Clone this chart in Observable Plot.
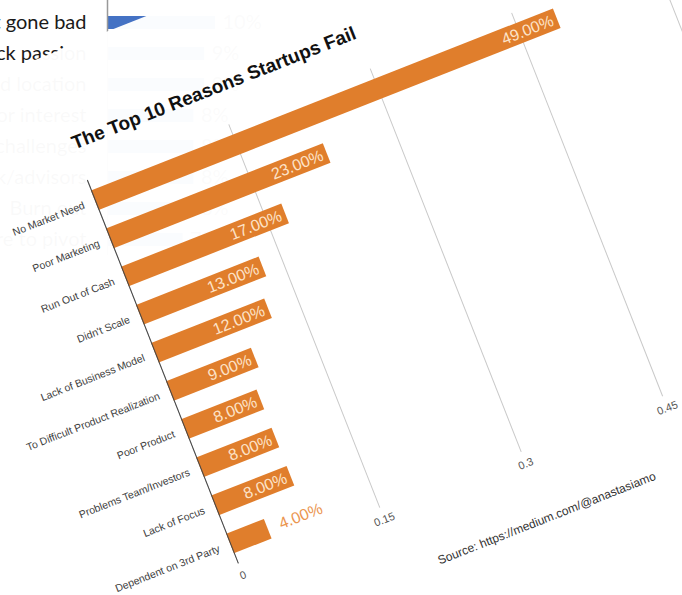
<!DOCTYPE html>
<html>
<head>
<meta charset="utf-8">
<script src="https://cdn.jsdelivr.net/npm/d3@7"></script>
<script src="https://cdn.jsdelivr.net/npm/@observablehq/plot@0.6"></script>
<style>
  html, body { margin: 0; padding: 0; background: #fff; overflow: hidden; width: 682px; height: 595px; }
  #stage { position: relative; width: 682px; height: 595px; overflow: hidden; background: #fff; }
  #bg { position: absolute; left: -193px; top: -24.5px; z-index: 0; }
  #card {
    position: absolute; left: -172px; top: 49px; width: 1000px; height: 700px; z-index: 1;
    background-color: rgba(255,255,255,0.977);
    transform-origin: 260px 134px; transform: rotate(-21.5deg);
  }
  #title {
    position: absolute; left: 260px; top: 82px; white-space: nowrap;
    font: bold 19px/1 "Liberation Sans", Arial, sans-serif; color: #111;
  }
  #chart { position: absolute; left: 0; top: 121px; }
  #caption {
    position: absolute; left: 564px; top: 608px; transform: translateX(-50%); white-space: nowrap;
    font: 12px/1 "Liberation Sans", Arial, sans-serif; color: #333;
  }
</style>
</head>
<body>
<div id="stage">
  <div id="bg"></div>
  <div id="card">
    <div id="title">The Top 10 Reasons Startups Fail</div>
    <div id="chart"></div>
    <div id="caption">Source: https://medium.com/@anastasiamo</div>
  </div>
</div>
<script>
// Main chart data
const categories = ["No Market Need", "Poor Marketing", "Run Out of Cash", "Didn't Scale", "Lack of Business Model",
  "To Difficult Product Realization", "Poor Product", "Problems Team/Investors", "Lack of Focus", "Dependent on 3rd Party"];
const shares = [0.49, 0.23, 0.17, 0.13, 0.12, 0.09, 0.08, 0.08, 0.08, 0.04];
const xTicks = [0, 0.15, 0.3, 0.45, 0.6];

// Background (partly hidden) chart data
const bgReasons = ["Lose focus", "Pivot gone bad", "Lack passion", "Bad location", "No financing/investor interest",
  "Legal challenges", "Don't use network/advisors", "Burn out", "Failure to pivot"];
const bgShares = [0.13, 0.10, 0.09, 0.09, 0.08, 0.08, 0.08, 0.08, 0.07];

const data = categories.map((c, i) => ({reason: c, share: shares[i]}));
const bgData = bgReasons.map((c, i) => ({reason: c, share: bgShares[i]}));
const pct = d => (d.share * 100).toFixed(2) + "%";

const bg = Plot.plot({
  width: 576, height: 279, marginLeft: 300, marginRight: 60, marginTop: 0, marginBottom: 0,
  style: {fontFamily: "Lato, 'Noto Sans', sans-serif", background: "transparent", overflow: "visible"},
  x: {domain: [0, 0.2], axis: null},
  y: {domain: bgReasons, paddingInner: 0.58, paddingOuter: 0.29},
  marks: [
    Plot.axisY({tickSize: 0, tickPadding: 21, fontSize: 20, fill: "#1a1a1a", label: null}),
    Plot.barX(bgData, {x: "share", y: "reason", fill: "#4472c4"}),
    Plot.ruleX([0], {stroke: "#999", strokeWidth: 1.5}),
    Plot.text(bgData, {x: "share", y: "reason", text: d => Math.round(d.share * 100) + "%", textAnchor: "start", dx: 7, fontSize: 20, fill: "#595959"})
  ]
});
document.getElementById("bg").appendChild(bg);

const chart = Plot.plot({
  width: 908, height: 462, marginLeft: 260, marginRight: 40, marginTop: 10, marginBottom: 40,
  style: {fontFamily: "'Liberation Sans', Arial, sans-serif", background: "transparent", overflow: "visible"},
  x: {domain: [0, 0.6], ticks: xTicks, tickFormat: d => String(d)},
  y: {domain: categories, paddingInner: 0.48, paddingOuter: 0.24},
  marks: [
    Plot.gridX(xTicks, {stroke: "#c9c9c9", strokeOpacity: 1}),
    Plot.axisX(xTicks, {tickSize: 0, tickPadding: 8, fontSize: 11, fill: "#555", label: null, tickFormat: d => String(d)}),
    Plot.axisY({tickSize: 0, tickPadding: 12, fontSize: 10.5, fill: "#404040", label: null}),
    Plot.barX(data, {x: "share", y: "reason", fill: "#e07e2c"}),
    Plot.ruleX([0], {stroke: "#444"}),
    Plot.text(data.filter(d => d.share >= 0.08), {x: "share", y: "reason", text: pct, textAnchor: "end", dx: -5, fill: "#fde3c8", fontSize: 16}),
    Plot.text(data.filter(d => d.share < 0.08), {x: "share", y: "reason", text: pct, textAnchor: "start", dx: 12, fill: "#eb9650", fontSize: 16})
  ]
});
document.getElementById("chart").appendChild(chart);
</script>
</body>
</html>
